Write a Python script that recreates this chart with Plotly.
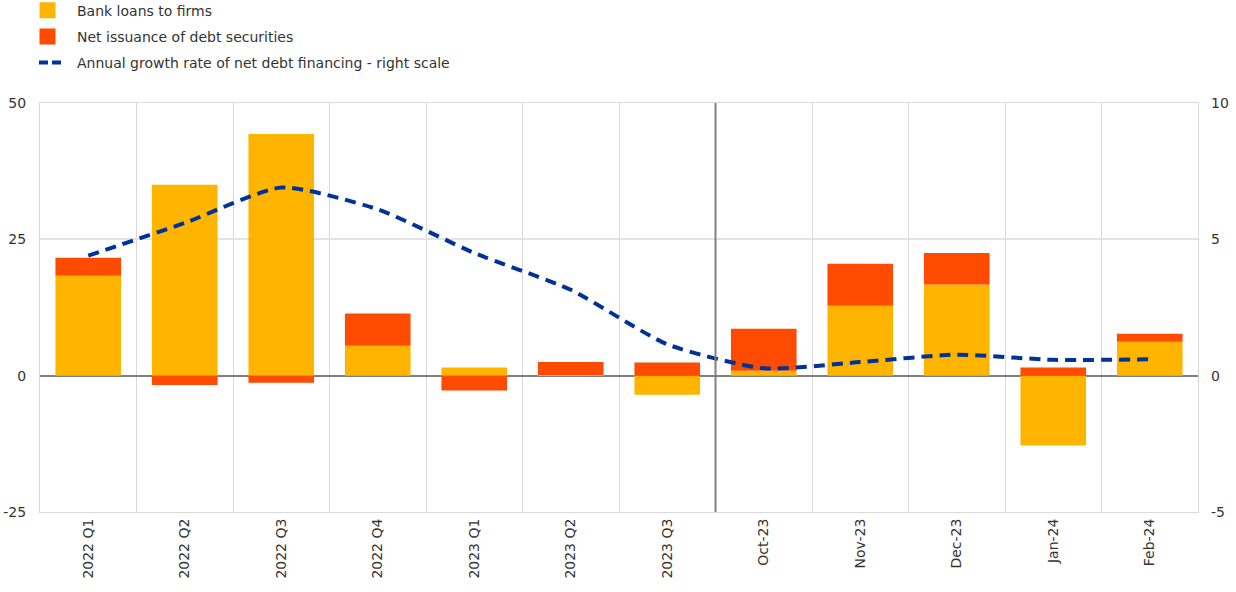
import plotly.graph_objects as go

# Data
periods = ["2022 Q1", "2022 Q2", "2022 Q3", "2022 Q4", "2023 Q1", "2023 Q2", "2023 Q3",
           "Oct-23", "Nov-23", "Dec-23", "Jan-24", "Feb-24"]
bank_loans = [18.3, 35.0, 44.3, 5.5, 1.5, 0.1, -3.5, 0.9, 12.8, 16.7, -12.8, 6.2]
debt_securities = [3.3, -1.7, -1.3, 5.9, -2.7, 2.4, 2.4, 7.7, 7.7, 5.8, 1.5, 1.5]
growth_rate = [4.4, 5.6, 6.9, 6.1, 4.5, 3.15, 1.15, 0.27, 0.5, 0.77, 0.58, 0.6]

left_ticks = [-25, 0, 25, 50]
left_labels = ["-25", "0", "25", "50"]
right_ticks = [-5, 0, 5, 10]
right_labels = ["-5", "0", "5", "10"]

FONT = "DejaVu Sans, Liberation Sans, Arial, sans-serif"
YELLOW = "#FFB400"
RED = "#FF4B00"
BLUE = "#003299"
TXT = "#333333"

fig = go.Figure()
fig.add_trace(go.Bar(x=periods, y=bank_loans, name="Bank loans to firms",
                     marker_color=YELLOW, marker_line_width=0, showlegend=False))
fig.add_trace(go.Bar(x=periods, y=debt_securities, name="Net issuance of debt securities",
                     marker_color=RED, marker_line_width=0, showlegend=False))
fig.add_trace(go.Scatter(x=periods, y=growth_rate, yaxis="y2", mode="lines",
                         name="Annual growth rate of net debt financing - right scale",
                         line=dict(color=BLUE, width=4, dash="11px,7px", shape="spline", smoothing=0.6),
                         showlegend=False))

# legend entries with bigger square swatches, as in the reference
fig.add_trace(go.Scatter(x=[None], y=[None], mode="markers", name="Bank loans to firms",
                         marker=dict(symbol="square", size=16, color=YELLOW), legendgroup="a"))
fig.add_trace(go.Scatter(x=[None], y=[None], mode="markers", name="Net issuance of debt securities",
                         marker=dict(symbol="square", size=16, color=RED), legendgroup="b"))
# two short dashes only, like the reference key
fig.add_trace(go.Scatter(x=[None], y=[None], mode="lines",
                         name="Annual growth rate of net debt financing - right scale",
                         line=dict(color=BLUE, width=4, dash="0px,16px,9px,4px,9px,100px"),
                         legendgroup="c"))

# darker separator between quarterly and monthly data
fig.add_shape(type="line", xref="x", yref="paper", x0=6.5, x1=6.5, y0=0, y1=1,
              line=dict(color="#808080", width=2))

fig.update_layout(
    width=1236, height=592,
    barmode="relative", bargap=0.32,
    plot_bgcolor="white", paper_bgcolor="white",
    font=dict(family=FONT, size=13, color=TXT),
    margin=dict(l=40, r=38, t=103, b=80, autoexpand=False),
    legend=dict(x=-0.019, y=1.265, xanchor="left", yanchor="top",
                font=dict(size=14, color=TXT), tracegroupgap=5, itemwidth=49,
                bgcolor="rgba(0,0,0,0)"),
    showlegend=True,
    xaxis=dict(type="category", tickson="boundaries", showgrid=True, gridcolor="#d9d9d9",
               gridwidth=1, tickangle=-90, ticks="", zeroline=False, automargin=False,
               showline=True, mirror=True, linecolor="#d9d9d9", linewidth=1,
               tickfont=dict(size=14, color=TXT)),
    yaxis=dict(range=[-25, 50], tickvals=left_ticks, ticktext=left_labels, showgrid=True,
               gridcolor="#e3e3e3", gridwidth=1.5, zeroline=True, zerolinecolor="#7f7f7f",
               zerolinewidth=2, showline=True, mirror=True, linecolor="#d9d9d9", linewidth=1,
               automargin=False, ticks="", ticklabelstandoff=10, tickfont=dict(size=14, color=TXT)),
    yaxis2=dict(range=[-5, 10], tickvals=right_ticks, ticktext=right_labels, overlaying="y",
                side="right", showgrid=False, zeroline=False, ticks="", ticklabelstandoff=12,
                automargin=False, tickfont=dict(size=14, color=TXT)),
)

fig.write_html("out.html", config={"displayModeBar": False},
               post_script="document.body.style.margin='0';")
